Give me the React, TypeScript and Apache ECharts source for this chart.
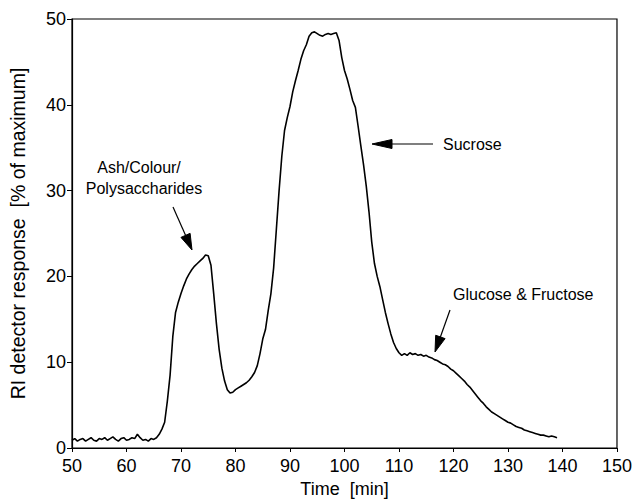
import React, { useEffect, useRef } from "react";
import * as echarts from "echarts";

const timeMin: number[] = [
  50, 50.5, 51, 51.5, 52, 52.5, 53, 53.5, 54, 54.5, 55, 55.5, 56, 56.5, 57, 57.5, 58, 58.5, 59, 59.5,
  60, 60.5, 61, 61.5, 62, 62.5, 63, 63.5, 64, 64.5, 65, 65.5, 66, 66.5, 67, 67.5, 68, 68.5, 69, 69.5,
  70, 70.5, 71, 71.5, 72, 72.5, 73, 73.5, 74, 74.5, 75, 75.5, 76, 76.5, 77, 77.5, 78, 78.5, 79, 79.5,
  80, 80.5, 81, 81.5, 82, 82.5, 83, 83.5, 84, 84.5, 85, 85.5, 86, 86.5, 87, 87.5, 88, 88.5, 89, 89.5,
  90, 90.5, 91, 91.5, 92, 92.5, 93, 93.5, 94, 94.5, 95, 95.5, 96, 96.5, 97, 97.5, 98, 98.5, 99, 99.5,
  100, 100.5, 101, 101.5, 102, 102.5, 103, 103.5, 104, 104.5, 105, 105.5, 106, 106.5, 107, 107.5, 108, 108.5, 109, 109.5,
  110, 110.5, 111, 111.5, 112, 112.5, 113, 113.5, 114, 114.5, 115, 115.5, 116, 116.5, 117, 117.5, 118, 118.5, 119, 119.5,
  120, 120.5, 121, 121.5, 122, 122.5, 123, 123.5, 124, 124.5, 125, 125.5, 126, 126.5, 127, 127.5, 128, 128.5, 129, 129.5,
  130, 130.5, 131, 131.5, 132, 132.5, 133, 133.5, 134, 134.5, 135, 135.5, 136, 136.5, 137, 137.5, 138, 138.5, 139,
];

const response: number[] = [
  0.9, 1.1, 0.8, 1.0, 1.1, 0.8, 1.0, 1.2, 0.9, 0.8, 1.1, 1.0, 1.2, 0.9, 1.1, 1.3, 1.0, 0.8, 1.1, 1.2,
  0.9, 1.0, 1.2, 1.1, 1.6, 1.2, 0.9, 1.0, 0.8, 1.1, 1.0, 1.2, 1.6, 2.2, 3.0, 5.5, 8.5, 13.0, 15.8, 17.0,
  18.0, 18.9, 19.7, 20.3, 20.8, 21.2, 21.5, 21.8, 22.1, 22.5, 22.4, 21.3, 18.0, 14.5, 11.5, 9.3, 7.8, 6.8, 6.4, 6.5,
  6.8, 7.0, 7.2, 7.4, 7.6, 7.9, 8.3, 8.8, 9.6, 11.0, 12.7, 13.8, 16.0, 18.0, 21.0, 25.5, 30.0, 34.0, 37.0, 38.5,
  39.8, 41.5, 42.8, 44.0, 45.3, 46.3, 47.0, 48.0, 48.4, 48.5, 48.3, 48.1, 48.0, 48.2, 48.3, 48.2, 48.3, 48.4, 47.5, 45.5,
  44.0, 43.0, 41.8, 40.5, 39.7, 37.5, 35.2, 33.0, 30.5, 27.5, 24.0, 21.5, 20.0, 18.8, 17.3, 15.8, 14.5, 13.3, 12.3, 11.6,
  11.1, 10.8, 11.0, 10.8, 11.1, 10.9, 11.0, 10.8, 10.9, 10.7, 10.8, 10.6, 10.5, 10.3, 10.2, 10.0, 9.8, 9.7, 9.5, 9.2,
  9.0, 8.7, 8.4, 8.1, 7.8, 7.4, 7.1, 6.7, 6.3, 5.9, 5.5, 5.2, 4.8, 4.5, 4.2, 4.0, 3.8, 3.6, 3.4, 3.2,
  3.0, 2.9, 2.7, 2.5, 2.4, 2.3, 2.1, 2.0, 1.9, 1.8, 1.7, 1.6, 1.5, 1.5, 1.4, 1.3, 1.4, 1.3, 1.2,
];

const xTicks = { min: 50, max: 150, interval: 10 };
const yTicks = { min: 0, max: 50, interval: 10 };

const annotations: string[] = ["Ash/Colour/", "Polysaccharides", "Sucrose", "Glucose & Fructose"];

const FONT = "Liberation Sans, Arial, Helvetica, sans-serif";

function arrow(x1: number, y1: number, x2: number, y2: number, headLen: number, halfW: number) {
  const dx = x2 - x1;
  const dy = y2 - y1;
  const len = Math.sqrt(dx * dx + dy * dy);
  const ux = dx / len;
  const uy = dy / len;
  const bx = x2 - ux * headLen;
  const by = y2 - uy * headLen;
  const px = -uy * halfW;
  const py = ux * halfW;
  return [
    {
      type: "line",
      shape: { x1, y1, x2: bx, y2: by },
      style: { stroke: "#000", lineWidth: 1.2 },
    },
    {
      type: "polygon",
      shape: { points: [[x2, y2], [bx + px, by + py], [bx - px, by - py]] },
      style: { fill: "#000", stroke: "#000", lineWidth: 1 },
    },
  ];
}

export default function App() {
  const ref = useRef<HTMLDivElement>(null);

  useEffect(() => {
    if (!ref.current) return;
    const chart = echarts.init(ref.current, undefined, { renderer: "svg" });
    const data = timeMin.map((t, i) => [t, response[i]]);
    const textStyle = { fill: "#000", fontSize: 16, fontFamily: FONT };

    chart.setOption({
      animation: false,
      backgroundColor: "#fff",
      grid: {
        left: 69.5,
        right: 17.5,
        top: 19,
        bottom: 50,
        show: true,
        borderColor: "#000",
        borderWidth: 1.2,
        backgroundColor: "transparent",
      },
      xAxis: {
        type: "value",
        min: xTicks.min,
        max: xTicks.max,
        interval: xTicks.interval,
        name: "Time  [min]",
        nameLocation: "middle",
        nameGap: 32,
        nameTextStyle: { color: "#000", fontSize: 18, fontFamily: FONT },
        axisLine: { show: true, lineStyle: { color: "#000", width: 1.2 } },
        axisTick: { show: true, length: 4, lineStyle: { color: "#000" } },
        axisLabel: { color: "#000", fontSize: 18, fontFamily: FONT, margin: 9 },
        splitLine: { show: false },
      },
      yAxis: {
        type: "value",
        min: yTicks.min,
        max: yTicks.max,
        interval: yTicks.interval,
        name: "RI detector response  [% of maximum]",
        nameLocation: "middle",
        nameGap: 44,
        nameTextStyle: { color: "#000", fontSize: 19.5, fontFamily: FONT },
        axisLine: { show: true, lineStyle: { color: "#000", width: 1.2 } },
        axisTick: { show: true, length: 5, lineStyle: { color: "#000" } },
        axisLabel: { color: "#000", fontSize: 18, fontFamily: FONT, margin: 6 },
        splitLine: { show: false },
      },
      series: [
        {
          type: "line",
          data,
          showSymbol: false,
          symbol: "none",
          lineStyle: { color: "#000", width: 1.6 },
          silent: true,
        },
      ],
      graphic: [
        { type: "text", x: 139, y: 167, style: { ...textStyle, text: annotations[0], align: "center", verticalAlign: "middle" } },
        { type: "text", x: 144, y: 188, style: { ...textStyle, text: annotations[1], align: "center", verticalAlign: "middle" } },
        { type: "text", x: 443, y: 144, style: { ...textStyle, text: annotations[2], align: "left", verticalAlign: "middle" } },
        { type: "text", x: 453, y: 294, style: { ...textStyle, text: annotations[3], align: "left", verticalAlign: "middle" } },
        ...arrow(173, 207, 192, 250, 16, 5),
        ...arrow(433, 144, 372, 144, 20, 4.5),
        ...arrow(450, 310, 435, 352, 16, 5),
      ],
    });

    return () => chart.dispose();
  }, []);

  return (
    <div
      ref={ref}
      style={{ position: "fixed", left: 0, top: 0, width: 635, height: 503, background: "#fff" }}
    />
  );
}
